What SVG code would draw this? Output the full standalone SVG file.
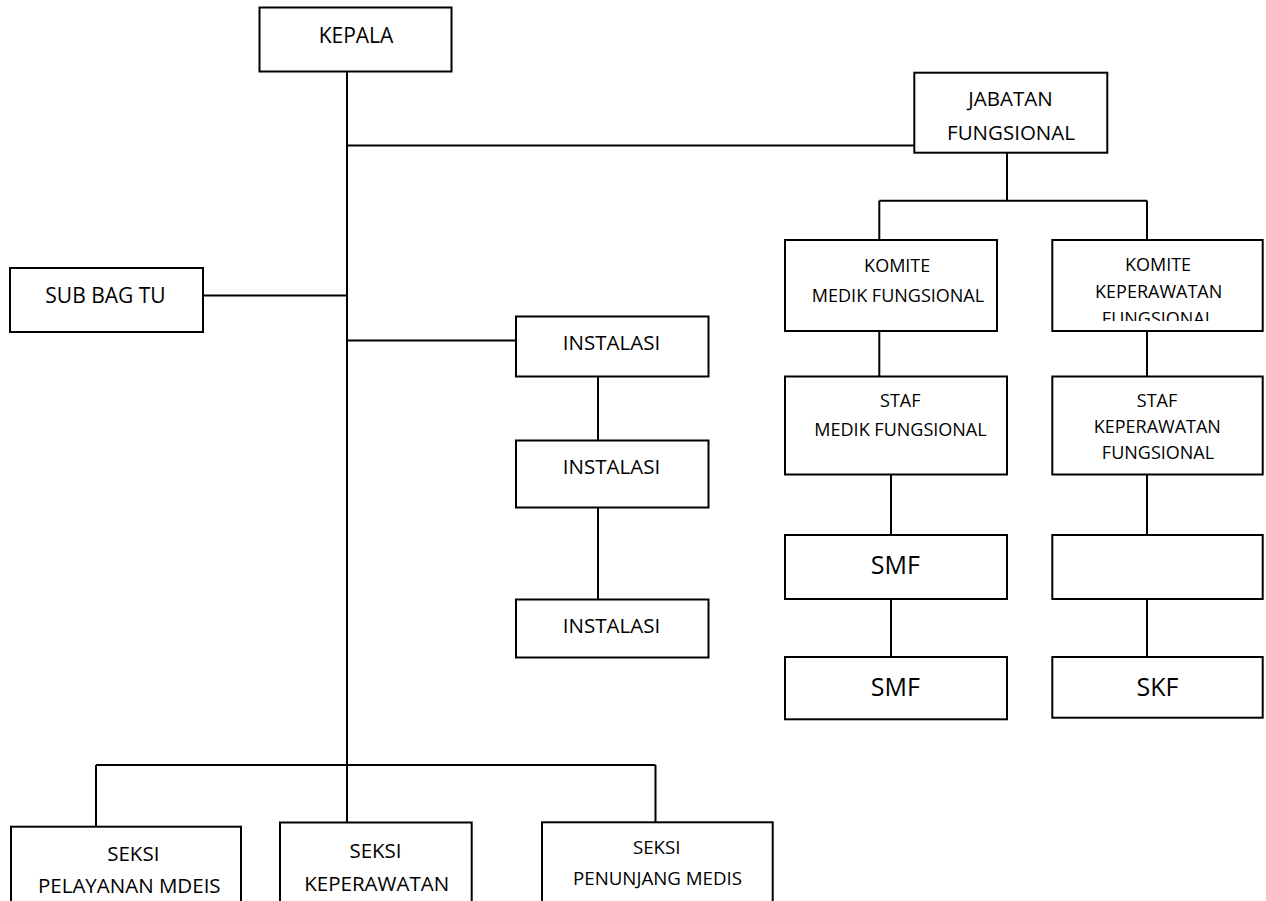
<svg xmlns="http://www.w3.org/2000/svg" width="1266" height="901" viewBox="0 0 1266 901">
<style>
.box{fill:#fff;stroke:#000;stroke-width:2}
.ln{fill:none;stroke:#000;stroke-width:2}
text{font-family:"Open Sans","Liberation Sans",sans-serif;fill:#000;text-anchor:middle}
.f21{font-size:21px}.f20{font-size:20.5px}.f19{font-size:18.7px}.f18{font-size:18px}.f25{font-size:25px}
</style>
<defs>
<clipPath id="clipKK"><rect x="1053" y="241" width="209" height="80"/></clipPath>
</defs>
<rect width="1266" height="901" fill="#fff"/>
<g id="connectors" class="ln">
<path d="M347 71.5V822.5"/>
<path d="M347 145.5H914"/>
<path d="M1007 152.7V200.7M879.3 200.7H1147M879.3 200.7V240M1147 200.7V240"/>
<path d="M879.3 331V376.5M1147 331V376.5"/>
<path d="M891 474.5V535M1147 474.5V535"/>
<path d="M891 599V657M1147 599V657"/>
<path d="M203 295.5H347"/>
<path d="M347 340.5H516"/>
<path d="M598 376.5V440.5M598 507.5V599.5"/>
<path d="M96 765H655.5M96 765V826.7M655.5 765V822.3"/>
</g>
<g id="kepala"><rect class="box" x="259.5" y="7.5" width="192" height="64"/><text class="f21" x="356" y="42.5">KEPALA</text></g>
<g id="jabatan"><rect class="box" x="914.3" y="72.7" width="193" height="80"/><text class="f20" x="1010.5" y="106.3">JABATAN</text><text class="f20" x="1011" y="140">FUNGSIONAL</text></g>
<g id="subbagtu"><rect class="box" x="10" y="268" width="193" height="64"/><text class="f21" x="105.5" y="302.5">SUB BAG TU</text></g>
<g id="instalasi1"><rect class="box" x="516" y="316.5" width="192.5" height="60"/><text class="f20" x="611.5" y="350.4">INSTALASI</text></g>
<g id="instalasi2"><rect class="box" x="516" y="440.5" width="192.5" height="67"/><text class="f20" x="611.5" y="473.8">INSTALASI</text></g>
<g id="instalasi3"><rect class="box" x="516" y="599.5" width="192.5" height="58"/><text class="f20" x="611.5" y="632.8">INSTALASI</text></g>
<g id="komite-medik"><rect class="box" x="785" y="240" width="212" height="91"/><text class="f18" x="897.2" y="272.4">KOMITE</text><text class="f18" x="898" y="302.4">MEDIK FUNGSIONAL</text></g>
<g id="komite-keperawatan"><rect class="box" x="1052.3" y="240" width="210.4" height="91"/><text class="f18" x="1158" y="271.4">KOMITE</text><text class="f18" x="1158.7" y="298.1">KEPERAWATAN</text><text class="f18" x="1158" y="324.5" clip-path="url(#clipKK)">FUNGSIONAL</text></g>
<g id="staf-medik"><rect class="box" x="785" y="376.5" width="222" height="98"/><text class="f18" x="900.3" y="407.4">STAF</text><text class="f18" x="900.5" y="436.4">MEDIK FUNGSIONAL</text></g>
<g id="staf-keperawatan"><rect class="box" x="1052.3" y="376.5" width="210.4" height="98"/><text class="f18" x="1157" y="407.4">STAF</text><text class="f18" x="1157.3" y="433.4">KEPERAWATAN</text><text class="f18" x="1158" y="459.4">FUNGSIONAL</text></g>
<g id="smf1"><rect class="box" x="785" y="535" width="222" height="64"/><text class="f25" x="895.3" y="573.9">SMF</text></g>
<g id="empty-box"><rect class="box" x="1052.3" y="535" width="210.4" height="64"/></g>
<g id="smf2"><rect class="box" x="785" y="657" width="222" height="62.3"/><text class="f25" x="895.3" y="695.6">SMF</text></g>
<g id="skf"><rect class="box" x="1052.3" y="657" width="210.4" height="60.7"/><text class="f25" x="1157.5" y="695.9">SKF</text></g>
<g id="seksi-pelayanan"><rect class="box" x="11" y="826.7" width="230" height="100"/><text class="f20" x="133.3" y="861.3">SEKSI</text><text class="f20" x="129.3" y="893.3">PELAYANAN MDEIS</text></g>
<g id="seksi-keperawatan"><rect class="box" x="280" y="822.5" width="191.7" height="100"/><text class="f20" x="375.5" y="858">SEKSI</text><text class="f20" x="376.7" y="890.6">KEPERAWATAN</text></g>
<g id="seksi-penunjang"><rect class="box" x="542" y="822.3" width="230.7" height="100"/><text class="f19" x="656.7" y="854">SEKSI</text><text class="f19" x="657.5" y="885">PENUNJANG MEDIS</text></g>
</svg>
